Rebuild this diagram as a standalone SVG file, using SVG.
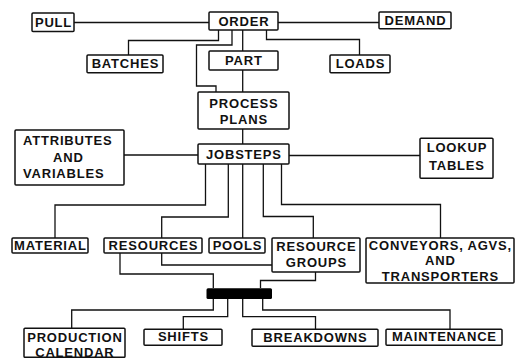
<svg xmlns="http://www.w3.org/2000/svg" width="516" height="358" viewBox="0 0 516 358">
<style>
.box{fill:#fff;stroke:#111;stroke-width:1.5}
.c{fill:none;stroke:#111;stroke-width:1.3}
text{font-family:"Liberation Sans",Arial,sans-serif;font-weight:bold;font-size:13px;letter-spacing:0.8px;fill:#111;text-anchor:middle}
.l{text-anchor:start}
</style>
<rect width="516" height="358" fill="#fff"/>
<g id="connectors">
<path class="c" d="M74 22.5H209"/>
<path class="c" d="M278 22.5H379"/>
<path class="c" d="M218.5 30V40.5H128.5V55"/>
<path class="c" d="M232 30V45H196.5V86H216V92"/>
<path class="c" d="M242.7 30V51"/>
<path class="c" d="M266.5 30V39.5H359.5V55"/>
<path class="c" d="M242.7 70V92"/>
<path class="c" d="M242.7 129V144"/>
<path class="c" d="M124 155H198"/>
<path class="c" d="M289 155.5H420"/>
<path class="c" d="M205.5 164V205H55V238"/>
<path class="c" d="M228.3 164V217H161.7V238"/>
<path class="c" d="M242.7 164V238"/>
<path class="c" d="M263.3 164V216.5H313.3V238"/>
<path class="c" d="M281.5 164V204.5H440.5V238"/>
<path class="c" d="M161.7 253V265H272"/>
<path class="c" d="M120 253V274H213.3V288"/>
<path class="c" d="M315.5 272V280.5H260.5V288"/>
<path class="c" d="M213.3 299V310H71.7V328"/>
<path class="c" d="M227.7 299V316.7H183.3V329"/>
<path class="c" d="M242.7 299V316.7H315.5V329"/>
<path class="c" d="M262.7 299V310H450V329"/>
</g>
<g id="pull"><rect class="box" x="32" y="13" width="42" height="18.5" rx="1"/><text x="53.5" y="26.8">PULL</text></g>
<g id="order"><rect class="box" x="209" y="12" width="69" height="18" rx="1"/><text x="243.9" y="26">ORDER</text></g>
<g id="demand"><rect class="box" x="379" y="12" width="72" height="16.8" rx="1"/><text x="415.4" y="25">DEMAND</text></g>
<g id="batches"><rect class="box" x="87" y="55" width="76" height="17.7" rx="1"/><text x="125.4" y="68.4">BATCHES</text></g>
<g id="part"><rect class="box" x="209" y="51" width="69" height="19" rx="1"/><text x="243.9" y="65.2">PART</text></g>
<g id="loads"><rect class="box" x="330" y="55" width="60" height="17.7" rx="1"/><text x="360.4" y="68.4">LOADS</text></g>
<g id="process-plans"><rect class="box" x="198" y="92" width="91" height="37" rx="1"/><text x="243.9" y="107.5">PROCESS</text><text x="243.9" y="124.2">PLANS</text></g>
<g id="attributes"><rect class="box" x="15" y="130" width="109" height="55" rx="1"/><text class="l" x="23" y="145.2">ATTRIBUTES</text><text x="68.4" y="161.8">AND</text><text class="l" x="23" y="178.4">VARIABLES</text></g>
<g id="jobsteps"><rect class="box" x="198" y="144" width="91" height="20" rx="1"/><text x="243.9" y="158.6">JOBSTEPS</text></g>
<g id="lookup"><rect class="box" x="420" y="138.3" width="73" height="40" rx="1"/><text x="456.9" y="151.8">LOOKUP</text><text x="456.9" y="170">TABLES</text></g>
<g id="material"><rect class="box" x="12" y="238" width="76" height="15" rx="1"/><text x="50.4" y="249.5">MATERIAL</text></g>
<g id="resources"><rect class="box" x="104" y="238" width="98" height="15" rx="1"/><text x="153.4" y="249.5">RESOURCES</text></g>
<g id="pools"><rect class="box" x="209" y="238" width="56" height="15" rx="1"/><text x="237.4" y="249.5">POOLS</text></g>
<g id="resource-groups"><rect class="box" x="272" y="238" width="88" height="34" rx="1"/><text x="316.4" y="250.8">RESOURCE</text><text x="316.4" y="266.8">GROUPS</text></g>
<g id="conveyors"><rect class="box" x="366" y="238" width="148" height="45" rx="1"/><text x="440.4" y="250.2">CONVEYORS, AGVS,</text><text x="440.4" y="265.4">AND</text><text x="440.4" y="280.6">TRANSPORTERS</text></g>
<g id="junction"><rect x="206.5" y="288.3" width="65.5" height="10.7" rx="1.5" fill="#000"/></g>
<g id="production-calendar"><rect class="box" x="24" y="328.3" width="101" height="29" rx="1"/><text x="74.9" y="341.8">PRODUCTION</text><text x="74.9" y="356.5">CALENDAR</text></g>
<g id="shifts"><rect class="box" x="144" y="329.3" width="78" height="16" rx="1"/><text x="183.4" y="341.2">SHIFTS</text></g>
<g id="breakdowns"><rect class="box" x="252" y="329.3" width="126" height="17" rx="1"/><text x="315.4" y="341.5">BREAKDOWNS</text></g>
<g id="maintenance"><rect class="box" x="386" y="329.3" width="116" height="16" rx="1"/><text x="444.4" y="341.2">MAINTENANCE</text></g>
</svg>
